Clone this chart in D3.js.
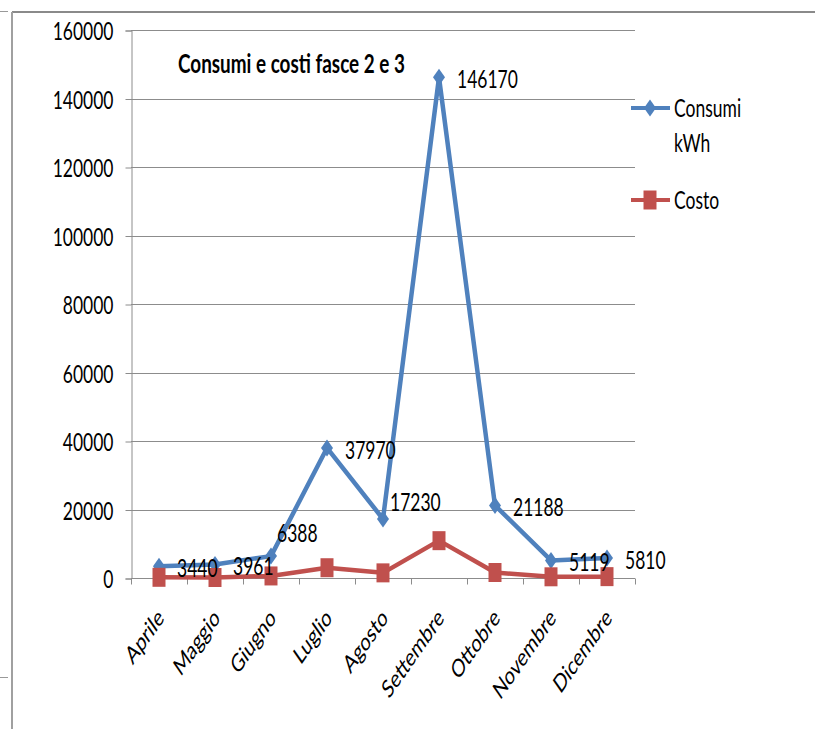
<!DOCTYPE html>
<meta charset="utf-8">
<style>
    body { margin: 0; background: #fff; }
    text { font-family: Lato, "Open Sans", sans-serif; fill: #000; }
</style>
<body>
<script src="https://d3js.org/d3.v7.min.js"></script>
<script>
var months = ["Aprile", "Maggio", "Giugno", "Luglio", "Agosto", "Settembre", "Ottobre", "Novembre", "Dicembre"];
var consumi = [3440, 3961, 6388, 37970, 17230, 146170, 21188, 5119, 5810];
var costo = [200, 150, 600, 3000, 1500, 10900, 1600, 350, 400];
var yTicks = [0, 20000, 40000, 60000, 80000, 100000, 120000, 140000, 160000];
var title = "Consumi e costi fasce 2 e 3";

var width = 815, height = 729;
var sx = 0.7; // the original picture is squeezed sideways
var blue = "#4f81bd", red = "#c0504d", grid = "#8c8c8c";

var svg = d3.select("body").append("svg")
    .attr("width", width)
    .attr("height", height);

// frame pieces
svg.append("line").attr("x1", 12).attr("x2", width).attr("y1", 12).attr("y2", 12)
    .attr("stroke", "#8a8a8a").attr("stroke-width", 2);
svg.append("line").attr("x1", 12).attr("x2", 12).attr("y1", 12).attr("y2", height)
    .attr("stroke", "#a0a0a0").attr("stroke-width", 2);
svg.append("line").attr("x1", 0).attr("x2", 8).attr("y1", 11.5).attr("y2", 11.5)
    .attr("stroke", "#999").attr("stroke-width", 1);
svg.append("line").attr("x1", 0).attr("x2", 8).attr("y1", 677.5).attr("y2", 677.5)
    .attr("stroke", "#999").attr("stroke-width", 1);

var x = d3.scaleBand().domain(months).range([131, 635]);
var y = d3.scaleLinear().domain([0, 160000]).range([578, 30]);
var cx = function (d) { return x(d) + x.bandwidth() / 2; };

// gridlines
svg.append("g").selectAll("line")
    .data(yTicks.filter(function (d) { return d > 0; }))
    .enter().append("line")
    .attr("x1", 131).attr("x2", 635)
    .attr("y1", function (d) { return Math.round(y(d)) + 0.5; })
    .attr("y2", function (d) { return Math.round(y(d)) + 0.5; })
    .attr("stroke", grid);

// y axis
var yAxis = svg.append("g")
    .attr("transform", "translate(131.5,0.5)")
    .call(d3.axisLeft(y).tickValues(yTicks).tickSize(6).tickFormat(d3.format("d")));
yAxis.select(".domain").attr("stroke", grid);
yAxis.selectAll(".tick line").attr("stroke", grid);
yAxis.selectAll(".tick text")
    .attr("x", 0)
    .attr("dy", "0.36em")
    .attr("transform", "translate(-18,0) scale(" + sx + ",1)")
    .style("font-size", "25px")
    .attr("fill", "#000");

// x axis
var xAxis = svg.append("g").attr("transform", "translate(0,578.5)");
xAxis.append("line").attr("x1", 131).attr("x2", 635).attr("stroke", grid);
xAxis.selectAll(".xt")
    .data(months.map(function (d) { return x(d); }).concat([x.range()[1]]))
    .enter().append("line")
    .attr("class", "xt")
    .attr("x1", function (d) { return Math.round(d) + 0.5; })
    .attr("x2", function (d) { return Math.round(d) + 0.5; })
    .attr("y1", 0).attr("y2", 6)
    .attr("stroke", grid);
xAxis.selectAll(".xl")
    .data(months)
    .enter().append("text")
    .attr("class", "xl")
    .attr("transform", function (d) {
        return "translate(" + (cx(d) + 6) + ",41) scale(" + sx + ",1) rotate(-45)";
    })
    .attr("text-anchor", "end")
    .style("font-size", "25px")
    .text(function (d) { return d; });

// lines
var line = d3.line()
    .x(function (d, i) { return cx(months[i]); })
    .y(function (d) { return y(d); });

svg.append("path").datum(costo)
    .attr("d", line).attr("fill", "none")
    .attr("stroke", red).attr("stroke-width", 4.5).attr("stroke-linejoin", "round");
svg.append("path").datum(consumi)
    .attr("d", line).attr("fill", "none")
    .attr("stroke", blue).attr("stroke-width", 4.5).attr("stroke-linejoin", "round");

var diamond = "M0,-8.5L6,0L0,8.5L-6,0Z";
var square = "M-6.5,-9.5H6.5V9.5H-6.5Z";

svg.append("g").selectAll("path")
    .data(consumi).enter().append("path")
    .attr("d", diamond).attr("fill", blue)
    .attr("transform", function (d, i) { return "translate(" + cx(months[i]) + "," + y(d) + ")"; });

svg.append("g").selectAll("path")
    .data(costo).enter().append("path")
    .attr("d", square).attr("fill", red)
    .attr("transform", function (d, i) { return "translate(" + cx(months[i]) + "," + y(d) + ")"; });

// data labels (a couple were moved by hand in the original)
var nudge = { Giugno: [6, -23], Agosto: [7, -17] };
svg.append("g").selectAll("text")
    .data(consumi).enter().append("text")
    .attr("transform", function (d, i) {
        var n = nudge[months[i]] || [18, 2];
        return "translate(" + (cx(months[i]) + n[0]) + "," + (y(d) + n[1]) + ") scale(" + sx + ",1)";
    })
    .attr("dy", "0.36em")
    .style("font-size", "25px")
    .text(function (d) { return d; });

// title
svg.append("text")
    .attr("transform", "translate(178,73) scale(" + sx + ",1)")
    .style("font-size", "27px")
    .style("font-weight", "bold")
    .text(title);

// legend
var legend = [
    { name: ["Consumi", "kWh"], color: blue, shape: diamond, y: 108 },
    { name: ["Costo"], color: red, shape: square, y: 200 }
];
var lg = svg.append("g").selectAll("g").data(legend).enter().append("g")
    .attr("transform", function (d) { return "translate(0," + d.y + ")"; });
lg.append("line").attr("x1", 631).attr("x2", 670)
    .attr("stroke", function (d) { return d.color; }).attr("stroke-width", 4);
lg.append("path").attr("d", function (d) { return d.shape; })
    .attr("fill", function (d) { return d.color; })
    .attr("transform", "translate(650,0)");
lg.each(function (d) {
    var g = d3.select(this);
    d.name.forEach(function (t, k) {
        g.append("text")
            .attr("transform", "translate(674," + (k * 35) + ") scale(" + sx + ",1)")
            .attr("dy", "0.36em")
            .style("font-size", "25px")
            .text(t);
    });
});
</script>
</body>
